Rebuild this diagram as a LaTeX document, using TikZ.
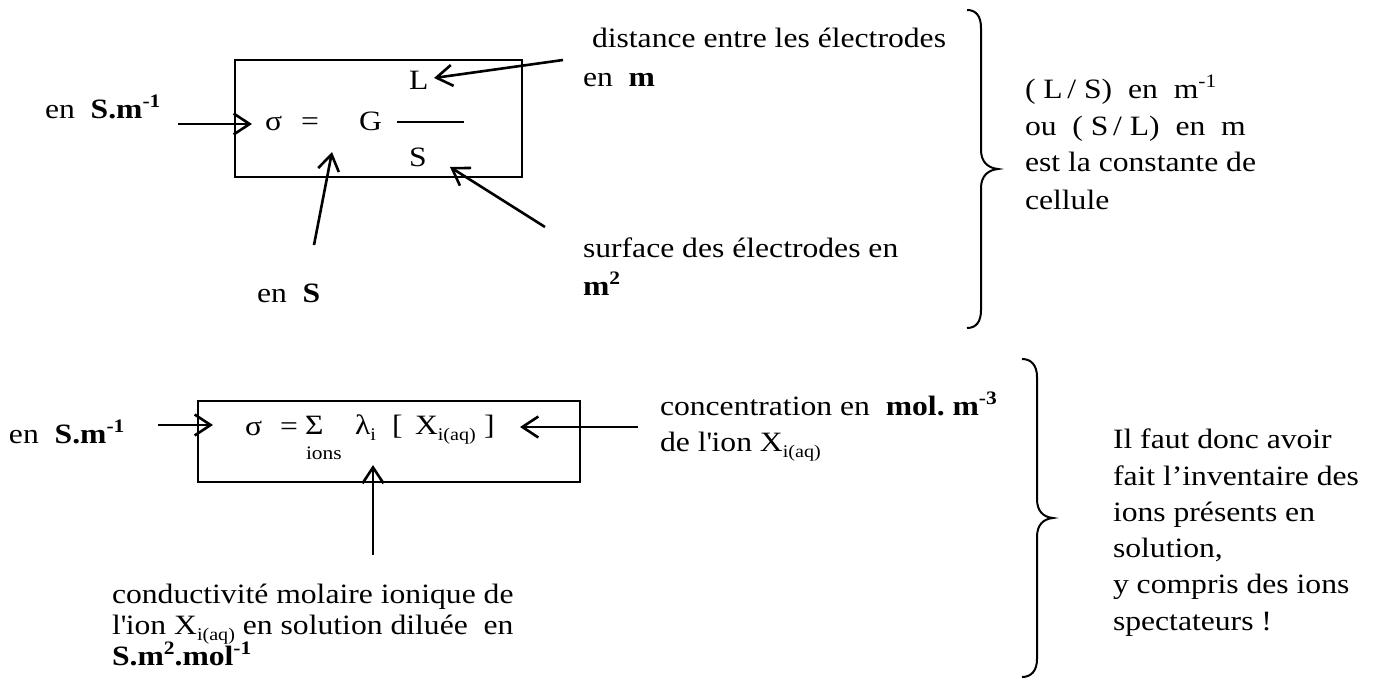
\documentclass[tikz,border=0pt]{standalone}
\usepackage{fontspec}
\setmainfont{Liberation Serif}[FakeStretch=1.13]
\usetikzlibrary{arrows.meta}

% raised and lowered small text (units, ion indices)
\newcommand\hightxt[1]{\raisebox{11pt}{\fontsize{19}{19}\selectfont #1}}
\newcommand\lowtxt[1]{\raisebox{-6pt}{\fontsize{17.8}{18}\selectfont #1}}

\begin{document}
\begin{tikzpicture}[x=1pt,y=-1pt,
  txt/.style={anchor=base west, inner sep=0pt, outer sep=0pt,
              font=\fontsize{28}{36}\selectfont},
  smalltxt/.style={anchor=base west, inner sep=0pt, outer sep=0pt,
              font=\fontsize{19}{22}\selectfont},
  frame/.style={draw, line width=2.6pt, inner sep=0pt},
  pointer/.style={line width=2.6pt,
              -{Straight Barb[length=16pt,width=21pt]}},
  curly/.style={line width=2pt},
  fracbar/.style={line width=1.6pt}]

\useasboundingbox (0,0) rectangle (1378,679);

% ---------- conductivity from conductance ----------
\node[frame, minimum width=287pt, minimum height=117pt] (box1) at (378.5,118.5) {};
\node[txt] (sig1) at (265,131) {σ};
\node[txt] (eq1)  at (301,131) {=};
\node[txt] (G)    at (359,131) {G};
\node[txt] (L)    at (409,90)  {L};
\node[txt] (S)    at (409,167) {S};
\coordinate (barl) at (397,122);
\coordinate (barr) at (464,122);
\draw[fracbar] (barl) -- (barr);

\node[txt] (unitsig1) at (45,119)  {en~~\textbf{S.m\hightxt{-1}}};
\node[txt] (unitG)    at (257,302) {en~~\textbf{S}};
\node[txt] (distL1)   at (592,48)  {distance entre les électrodes};
\node[txt] (distL2)   at (583,87)  {en~~\textbf{m}};
\node[txt] (surfS1)   at (583,257) {surface des électrodes en};
\node[txt] (surfS2)   at (583,295) {\textbf{m\hightxt{2}}};

\coordinate (a1s) at (178,124);  \coordinate (a1e) at (252,124);
\coordinate (a2s) at (563,60);   \coordinate (a2e) at (434,78);
\coordinate (a3s) at (314,245);  \coordinate (a3e) at (332,152);
\coordinate (a4s) at (545,227);  \coordinate (a4e) at (450,167);
\draw[pointer] (a1s) -- (a1e);
\draw[pointer] (a2s) -- (a2e);
\draw[pointer] (a3s) -- (a3e);
\draw[pointer] (a4s) -- (a4e);

% first brace and its comment
\draw[curly] (967,10) .. controls (976,10) and (981,16) .. (981,28)
  -- (981,150) .. controls (981,162) and (988,168) .. (998,169)
  .. controls (988,170) and (981,176) .. (981,188)
  -- (981,310) .. controls (981,322) and (976,328) .. (967,328);
\node[txt] (cst1) at (1025,99)  {(~L\,/~S)~~en~~m\hightxt{-1}};
\node[txt] (cst2) at (1025,136) {ou~~(~S\,/~L)~~en~~m};
\node[txt] (cst3) at (1025,172) {est la constante de};
\node[txt] (cst4) at (1025,209) {cellule};

% ---------- conductivity from molar ionic conductivities ----------
\node[frame, minimum width=382pt, minimum height=81pt] (box2) at (389,441.5) {};
\node[txt] (sig2) at (245,435) {σ};
\node[txt] (eq2)  at (280,435) {=};
\node[txt] (sum)  at (305,434) {Σ};
\node[smalltxt] (ions) at (306,459) {ions};
\node[txt] (lam)  at (355,434) {λ\lowtxt{i}};
\node[txt] (lbr)  at (392,434) {[};
\node[txt] (Xi)   at (415,434) {X\lowtxt{i(aq)}};
\node[txt] (rbr)  at (484,434) {]};

\node[txt] (unitsig2) at (9,443)   {en~~\textbf{S.m\hightxt{-1}}};
\node[txt] (conc1)    at (660,415) {concentration en~~\textbf{mol.~m\hightxt{-3}}};
\node[txt] (conc2)    at (660,451) {de l\textquotesingle ion X\lowtxt{i(aq)}};
\node[txt] (lam1)     at (112,603) {conductivité molaire ionique de};
\node[txt] (lam2)     at (112,634) {l\textquotesingle ion X\lowtxt{i(aq)} en solution diluée~~en};
\node[txt] (lam3)     at (112,665) {\textbf{S.m\hightxt{2}.mol\hightxt{-1}}};

\coordinate (b1s) at (158,425);  \coordinate (b1e) at (213,425);
\coordinate (b2s) at (638,427);  \coordinate (b2e) at (520,427);
\coordinate (b3s) at (373,555);  \coordinate (b3e) at (373,465);
\draw[pointer] (b1s) -- (b1e);
\draw[pointer] (b2s) -- (b2e);
\draw[pointer] (b3s) -- (b3e);

% second brace and its comment
\draw[curly] (1022,359) .. controls (1031,359) and (1037,365) .. (1037,377)
  -- (1037,499) .. controls (1037,511) and (1043,517) .. (1053,518)
  .. controls (1043,519) and (1037,525) .. (1037,537)
  -- (1037,659) .. controls (1037,671) and (1031,677) .. (1022,677);
\node[txt] (inv1) at (1113,448) {Il faut donc avoir};
\node[txt] (inv2) at (1113,485) {fait l’inventaire des};
\node[txt] (inv3) at (1113,521) {ions présents en};
\node[txt] (inv4) at (1113,557) {solution,};
\node[txt] (inv5) at (1113,593) {y compris des ions};
\node[txt] (inv6) at (1113,630) {spectateurs !};
\end{tikzpicture}
\end{document}
